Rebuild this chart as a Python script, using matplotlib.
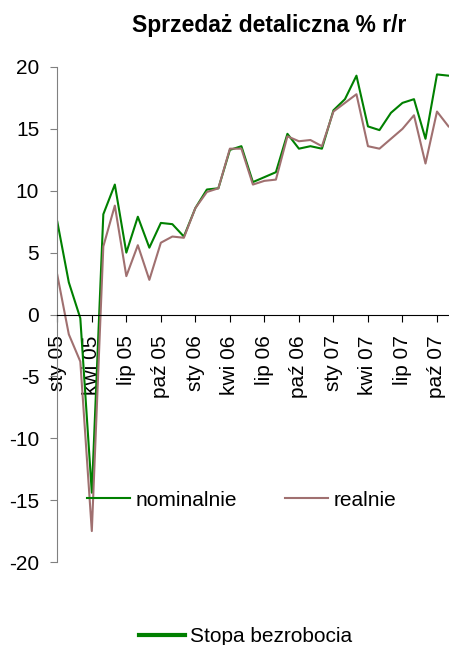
import matplotlib
matplotlib.use("Agg")
import matplotlib.pyplot as plt
from matplotlib.lines import Line2D
import numpy as np

plt.rcParams["font.family"] = ["Liberation Sans", "DejaVu Sans"]
plt.rcParams["axes.unicode_minus"] = False

# monthly data, sty 05 .. lis 07
months = [
    "sty 05", "lut 05", "mar 05", "kwi 05", "maj 05", "cze 05", "lip 05", "sie 05", "wrz 05",
    "paź 05", "lis 05", "gru 05", "sty 06", "lut 06", "mar 06", "kwi 06", "maj 06", "cze 06",
    "lip 06", "sie 06", "wrz 06", "paź 06", "lis 06", "gru 06", "sty 07", "lut 07", "mar 07",
    "kwi 07", "maj 07", "cze 07", "lip 07", "sie 07", "wrz 07", "paź 07", "lis 07",
]
nominal = [
    7.5, 2.6, -0.3, -14.4, 8.1, 10.5, 5.0, 7.9, 5.4, 7.4, 7.3, 6.3, 8.6, 10.1, 10.2, 13.3, 13.6,
    10.7, 11.1, 11.5, 14.6, 13.4, 13.6, 13.4, 16.5, 17.4, 19.3, 15.2, 14.9, 16.3, 17.1, 17.4,
    14.2, 19.4, 19.3,
]
real = [
    3.2, -1.6, -3.8, -17.5, 5.5, 8.8, 3.1, 5.6, 2.8, 5.8, 6.3, 6.2, 8.6, 9.9, 10.2, 13.4, 13.4,
    10.5, 10.8, 10.9, 14.4, 14.0, 14.1, 13.6, 16.4, 17.1, 17.8, 13.6, 13.4, 14.2, 15.0, 16.1,
    12.2, 16.4, 15.2,
]
tick_every = 3

green = "#008000"
brown = "#a07070"
fs = 15

fig = plt.figure(figsize=(4.49, 6.45), dpi=100)
ax = fig.add_axes([57.3 / 449, 1 - 562 / 645, (448.5 - 57.3) / 449, (562 - 67) / 645])

# x axis sits on the zero line (set before tick styling, it resets ticks)
for side in ["top", "right"]:
    ax.spines[side].set_visible(False)
ax.spines["bottom"].set_position(("data", 0))
ax.spines["bottom"].set_color("black")
ax.spines["left"].set_color("#808080")

x = np.arange(len(months))
ax.plot(x, nominal, color=green, lw=1.5, label="nominalnie")
ax.plot(x, real, color=brown, lw=1.5, label="realnie")

ax.set_xlim(0, len(months) - 1)
ax.set_ylim(-20, 20)
ax.set_yticks(np.arange(-20, 21, 5))
ax.set_xticks(x[::tick_every])
ax.set_xticklabels(months[::tick_every], rotation=90, fontsize=fs)
ax.tick_params(axis="y", length=5, color="#808080", labelsize=fs, pad=8)
ax.tick_params(axis="x", length=5, color="black", pad=10)

ax.legend(
    loc="center left", bbox_to_anchor=(2.55, -15), bbox_transform=ax.transData,
    ncol=2, frameon=False, fontsize=fs, borderpad=0, borderaxespad=0,
    handlelength=2.07, handletextpad=0.27, columnspacing=2.3,
)

fig.text(269 / 449, 1 - 31.7 / 645, "Sprzedaż detaliczna % r/r", ha="center", va="baseline",
         fontsize=16.5, fontweight="bold")

fig.legend(
    handles=[Line2D([], [], color=green, lw=3)], labels=["Stopa bezrobocia"],
    loc="center left", bbox_to_anchor=(139 / 449, 1 - 636.7 / 645), frameon=False,
    fontsize=fs, borderpad=0, borderaxespad=0, handlelength=2.2, handletextpad=0.27,
)

fig.savefig("out.png", dpi=100)
